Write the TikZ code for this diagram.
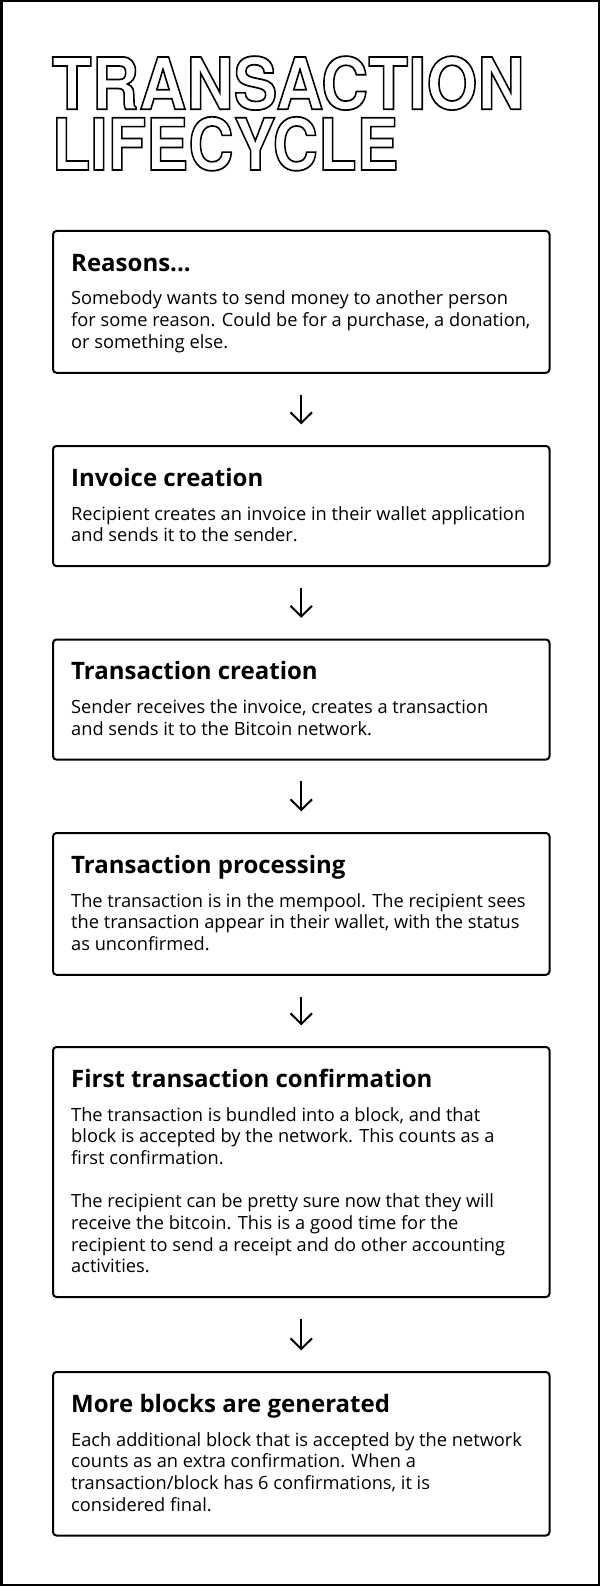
\documentclass[tikz,border=0pt]{standalone}
\usepackage{fontspec}
\usepackage{graphicx}
\setmainfont{Open Sans}
\newfontfamily\titlefont{TeX Gyre Heros}
\usetikzlibrary{arrows.meta}
\tikzset{
  stepbox/.style={draw=black, line width=2pt, rounded corners=3.5pt, fill=white,
    minimum width=496.5pt, inner sep=0pt, anchor=north west},
  headtext/.style={font=\bfseries\fontsize{24}{28}\selectfont, anchor=base west, inner sep=0pt},
  bodytext/.style={font=\fontsize{18.25}{21.7}\selectfont, anchor=base west, inner sep=0pt},
  flowarrow/.style={draw=black, line width=2pt, shorten <=20.7pt, shorten >=20.7pt,
    -{Straight Barb[length=10.5pt,width=21.5pt,line width=2pt]}},
  titletext/.style={font=\titlefont\bfseries\fontsize{71.8}{60.7}\selectfont, anchor=base west, inner sep=0pt}
}
\newcommand{\bodylines}[1]{\vtop{\hsize=490pt\parindent=0pt\raggedright #1\endgraf}}
\newcommand{\outlined}[2]{\special{pdf:literal direct 0 G 1 Tr 1.7 w}\scalebox{#1}[1]{#2}\special{pdf:literal direct 0 Tr}}
\begin{document}
\begin{tikzpicture}[x=1pt,y=-1pt]
\useasboundingbox (0,0) rectangle (600,1586);
\fill[white] (0,0) rectangle (600,1586);
\draw[line width=2.5pt] (1.25,1.25) rectangle (598.75,1584.75);

% boxes
\node[stepbox, minimum height=141.8pt] (b1) at (52,230) {};
\node[stepbox, minimum height=120.1pt] (b2) at (52,445) {};
\node[stepbox, minimum height=120.1pt] (b3) at (52,638.5) {};
\node[stepbox, minimum height=141.8pt] (b4) at (52,832) {};
\node[stepbox, minimum height=250pt] (b5) at (52,1046) {};
\node[stepbox, minimum height=163.5pt] (b6) at (52,1371) {};

% texts
\node[headtext] (h1) at (71,271.3) {Reasons...};
\node[bodytext] (t1) at (71,305) {\bodylines{Somebody wants to send money to another person\\
for some reason. Could be for a purchase, a donation,\\
or something else.}};

\node[headtext] (h2) at (71,486.3) {Invoice creation};
\node[bodytext] (t2) at (71,520) {\bodylines{Recipient creates an invoice in their wallet application\\
and sends it to the sender.}};

\node[headtext] (h3) at (71,679.8) {Transaction creation};
\node[bodytext] (t3) at (71,713.5) {\bodylines{Sender receives the invoice, creates a transaction\\
and sends it to the Bitcoin network.}};

\node[headtext] (h4) at (71,873.3) {Transaction processing};
\node[bodytext] (t4) at (71,907) {\bodylines{The transaction is in the mempool. The recipient sees\\
the transaction appear in their wallet, with the status\\
as unconfirmed.}};

\node[headtext] (h5) at (71,1087.3) {First transaction confirmation};
\node[bodytext] (t5) at (71,1121) {\bodylines{The transaction is bundled into a block, and that\\
block is accepted by the network. This counts as a\\
first confirmation.\\[21.7pt]
The recipient can be pretty sure now that they will\\
receive the bitcoin. This is a good time for the\\
recipient to send a receipt and do other accounting\\
activities.}};

\node[headtext] (h6) at (71,1412.3) {More blocks are generated};
\node[bodytext] (t6) at (71,1446) {\bodylines{Each additional block that is accepted by the network\\
counts as an extra confirmation. When a\\
transaction/block has 6 confirmations, it is\\
considered final.}};

% arrows
\draw[flowarrow] (b1) -- (b2);
\draw[flowarrow] (b2) -- (b3);
\draw[flowarrow] (b3) -- (b4);
\draw[flowarrow] (b4) -- (b5);
\draw[flowarrow] (b5) -- (b6);

% title (outlined)
\begin{scope}
\node[titletext] (title1) at (51.6,109.3) {\outlined{0.912}{TRANSACTION}};
\node[titletext] (title2) at (51.6,170) {\outlined{0.877}{LIFECYCLE}};
\end{scope}
\end{tikzpicture}
\end{document}
